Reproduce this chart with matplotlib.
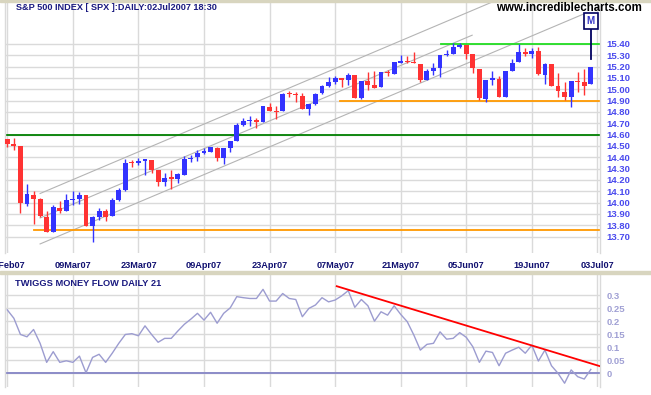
import numpy as np
import matplotlib.pyplot as plt
from matplotlib.patches import Rectangle

plt.rcParams['font.family'] = ['Liberation Sans', 'DejaVu Sans']

# tick labels, one every 10 sessions (23Feb07 .. 03Jul07)
tick_labels = ['23Feb07', '09Mar07', '23Mar07', '09Apr07', '23Apr07',
               '07May07', '21May07', '05Jun07', '19Jun07', '03Jul07']
price_ticks = [13.70, 13.80, 13.90, 14.00, 14.10, 14.20, 14.30, 14.40, 14.50,
               14.60, 14.70, 14.80, 14.90, 15.00, 15.10, 15.20, 15.30, 15.40]
tmf_ticks = [0, 0.05, 0.1, 0.15, 0.2, 0.25, 0.3]
tmf_tick_labels = ['0', '0.05', '0.1', '0.15', '0.2', '0.25', '0.3']

# daily candles (axis shows index / 100)
opens = [14.56, 14.52, 14.50, 13.99, 14.07, 14.03, 13.87, 13.74, 13.95, 13.93,
         14.02, 14.03, 14.07, 13.79, 13.87, 13.93, 13.88, 14.02, 14.11, 14.36,
         14.35, 14.37, 14.38, 14.29, 14.18, 14.22, 14.21, 14.24, 14.385, 14.40,
         14.44, 14.45, 14.48, 14.39, 14.48, 14.54, 14.685, 14.72, 14.73, 14.715,
         14.84, 14.81, 14.81, 14.965, 14.955, 14.94, 14.83, 14.87, 14.965, 15.03,
         15.06, 15.10, 15.08, 15.13, 14.92, 15.07, 15.04, 15.02, 15.15, 15.135,
         15.235, 15.25, 15.24, 15.22, 15.08, 15.165, 15.185, 15.30, 15.31, 15.37,
         15.39, 15.31, 15.18, 14.915, 15.085, 15.09, 14.935, 15.16, 15.24, 15.325,
         15.31, 15.335, 15.125, 15.22, 15.03, 14.975, 14.935, 15.07, 15.065, 15.05]
highs = [14.56, 14.57, 14.50, 14.16, 14.10, 14.04, 13.93, 13.98, 14.01, 14.08,
         14.10, 14.09, 14.07, 13.88, 13.95, 13.94, 14.04, 14.13, 14.385, 14.38,
         14.39, 14.38, 14.38, 14.29, 14.26, 14.29, 14.26, 14.41, 14.42, 14.46,
         14.48, 14.49, 14.49, 14.48, 14.54, 14.70, 14.745, 14.76, 14.745, 14.855,
         14.875, 14.85, 14.97, 14.985, 14.98, 14.97, 14.87, 14.965, 15.04, 15.11,
         15.12, 15.10, 15.14, 15.13, 15.07, 15.15, 15.16, 15.15, 15.17, 15.24,
         15.30, 15.295, 15.33, 15.22, 15.18, 15.23, 15.30, 15.35, 15.41, 15.41,
         15.39, 15.31, 15.18, 15.08, 15.16, 15.12, 15.16, 15.265, 15.40, 15.36,
         15.36, 15.375, 15.23, 15.22, 15.145, 15.06, 15.07, 15.155, 15.175, 15.195]
lows = [14.49, 14.46, 13.91, 13.97, 13.81, 13.87, 13.74, 13.74, 13.91, 13.93,
        13.98, 13.99, 13.79, 13.65, 13.85, 13.84, 13.88, 14.01, 14.10, 14.31,
        14.33, 14.24, 14.26, 14.15, 14.15, 14.12, 14.17, 14.24, 14.36, 14.37,
        14.43, 14.45, 14.37, 14.34, 14.45, 14.54, 14.675, 14.675, 14.655, 14.715,
        14.81, 14.735, 14.81, 14.93, 14.89, 14.83, 14.77, 14.86, 14.955, 15.02,
        15.05, 15.02, 15.04, 14.92, 14.91, 14.99, 15.015, 15.02, 15.12, 15.135,
        15.235, 15.23, 15.23, 15.06, 15.08, 15.13, 15.105, 15.29, 15.31, 15.36,
        15.265, 15.145, 14.905, 14.885, 15.04, 14.935, 14.935, 15.16, 15.24, 15.295,
        15.275, 15.125, 15.045, 15.03, 14.935, 14.905, 14.845, 14.98, 14.945, 15.05]
closes = [14.52, 14.50, 14.00, 14.08, 14.03, 13.88, 13.74, 13.96, 13.93, 14.02,
          14.03, 14.07, 13.79, 13.87, 13.93, 13.87, 14.02, 14.11, 14.35, 14.35,
          14.37, 14.38, 14.29, 14.18, 14.22, 14.21, 14.25, 14.385, 14.39, 14.435,
          14.45, 14.49, 14.39, 14.48, 14.54, 14.685, 14.72, 14.73, 14.715, 14.85,
          14.81, 14.80, 14.96, 14.955, 14.95, 14.83, 14.87, 14.96, 15.03, 15.06,
          15.10, 15.08, 15.13, 14.92, 15.07, 15.04, 15.015, 15.15, 15.14, 15.24,
          15.25, 15.24, 15.23, 15.08, 15.16, 15.19, 15.30, 15.31, 15.37, 15.39,
          15.315, 15.185, 14.92, 15.08, 15.09, 14.935, 15.16, 15.23, 15.325, 15.31,
          15.335, 15.135, 15.22, 15.03, 14.985, 14.935, 15.07, 15.06, 15.03, 15.195]

# twiggs money flow 21
tmf = [0.243, 0.211, 0.149, 0.140, 0.168, 0.115, 0.042, 0.083, 0.042, 0.048,
       0.042, 0.066, 0.002, 0.061, 0.073, 0.042, 0.077, 0.115, 0.149, 0.152,
       0.144, 0.182, 0.149, 0.119, 0.134, 0.134, 0.162, 0.188, 0.208, 0.230,
       0.204, 0.234, 0.192, 0.230, 0.251, 0.294, 0.290, 0.287, 0.287, 0.322,
       0.277, 0.277, 0.306, 0.287, 0.283, 0.217, 0.249, 0.262, 0.290, 0.274,
       0.281, 0.297, 0.317, 0.253, 0.283, 0.259, 0.200, 0.236, 0.223, 0.259,
       0.226, 0.198, 0.147, 0.089, 0.111, 0.115, 0.159, 0.131, 0.134, 0.156,
       0.138, 0.102, 0.042, 0.085, 0.080, 0.029, 0.077, 0.089, 0.100, 0.077,
       0.108, 0.047, 0.089, 0.029, 0.000, -0.038, 0.013, -0.013, -0.022, 0.015]

# drawn lines: price channel, support/resistance, tmf trendline
channel_x = [[5, 74.7], [5, 70.9], [5, 87.9]]
channel_y = [[14.08, 15.788], [13.864, 15.477], [13.635, 15.664]]
level_values = [14.60, 15.40, 14.90, 13.758]
level_starts = [-0.4, 66.2, 50.8, 4.07]
level_colors = ['#008000', '#22dd22', '#ff9900', '#ff9900']
trend_x = [50.25, 90.3]
trend_y = [0.334, 0.028]

W, H = 651, 395
fig = plt.figure(figsize=(W / 100, H / 100), dpi=100)

def px_axes(x0, y0, x1, y1):
    return fig.add_axes([x0 / W, 1 - y1 / H, (x1 - x0) / W, (y1 - y0) / H])

ax = px_axes(4.7, 2, 600, 253)
ax2 = px_axes(4.7, 275, 600, 387)

n = len(closes)
x = np.arange(n)
up_col, down_col = '#3333ff', '#ff3333'

for i in range(n):
    c = up_col if closes[i] >= opens[i] else down_col
    ax.vlines(x[i], lows[i], highs[i], color=c, lw=1, zorder=3)
    lo = min(opens[i], closes[i])
    h = max(abs(closes[i] - opens[i]), 0.012)
    ax.bar(x[i], h, bottom=lo, width=0.74, color=c, lw=0, zorder=4)

for cx, cy in zip(channel_x, channel_y):
    ax.plot(cx, cy, color='#b4b4b4', lw=0.8, zorder=2)

for v, s, c in zip(level_values, level_starts, level_colors):
    ax.plot([s, 90.4], [v, v], color=c, lw=1.3, zorder=2)

# M marker on the last bar
ax.plot([89, 89], [15.265, 15.553], color='#000060', lw=1.3, zorder=5)
ax.text(89, 15.605, 'M', ha='center', va='center', fontsize=7, fontweight='bold',
        color='#3535c8', zorder=6,
        bbox=dict(boxstyle='square,pad=0.3', fc='white', ec='#000060', lw=1.2))

ax.set_xlim(-0.4, 90.4)
ax.set_ylim(13.555, 15.77)
ax.set_yticks(price_ticks)
ax.set_yticklabels(['%.2f' % p for p in price_ticks])
ax.set_xticks(np.arange(0, 91, 10))
ax.set_xticklabels(tick_labels)

# money flow panel
ax2.plot(x, tmf, color='#9c9cd0', lw=1, zorder=3)
ax2.axhline(0, color='#8c8cc8', lw=1.4, zorder=2)
ax2.plot(trend_x, trend_y, color='#ff0000', lw=1.3, zorder=4)
ax2.set_xlim(-0.4, 90.4)
ax2.set_ylim(-0.0525, 0.377)
ax2.set_yticks(tmf_ticks)
ax2.set_yticklabels(tmf_tick_labels)
ax2.set_xticks(np.arange(0, 91, 10))
ax2.set_xticklabels([])

for a, lc in [(ax, '#4a4aee'), (ax2, '#a0a0d4')]:
    a.yaxis.tick_right()
    a.tick_params(axis='y', length=0, pad=4.5, labelsize=6.8, labelcolor=lc)
    a.tick_params(axis='x', length=0, pad=6, labelsize=6.6, labelcolor='#101070')
    for lab in a.get_yticklabels() + a.get_xticklabels():
        lab.set_fontweight('bold')
    a.grid(True, color='#dadada', lw=1, zorder=0)
    a.set_axisbelow(True)
    for side in ['top', 'bottom']:
        a.spines[side].set_visible(False)
    for side in ['left', 'right']:
        a.spines[side].set_color('#dadada')
        a.spines[side].set_linewidth(1)

# frame strips
fig.patches.append(Rectangle((0, 1 - 1.5 / H), 1, 1.5 / H, transform=fig.transFigure,
                             color='#d8d5bf', zorder=0))
fig.patches.append(Rectangle((0, 1 - 274 / H), 1, 3.5 / H, transform=fig.transFigure,
                             color='#d8d5bf', zorder=0))

fig.text(16 / W, 1 - 7 / H, 'S&P 500 INDEX [ SPX ]:DAILY:02Jul2007 18:30',
         fontsize=6.6, fontweight='bold', color='#1a1a80', va='center', ha='left')
fig.text(15 / W, 1 - 283 / H, 'TWIGGS MONEY FLOW DAILY 21',
         fontsize=6.7, fontweight='bold', color='#1a1a80', va='center', ha='left')
fig.text(642 / W, 1 - 8 / H, 'www.incrediblecharts.com',
         fontsize=8.3, fontweight='bold', color='black', va='center', ha='right')

fig.savefig('out.png', dpi=100)
